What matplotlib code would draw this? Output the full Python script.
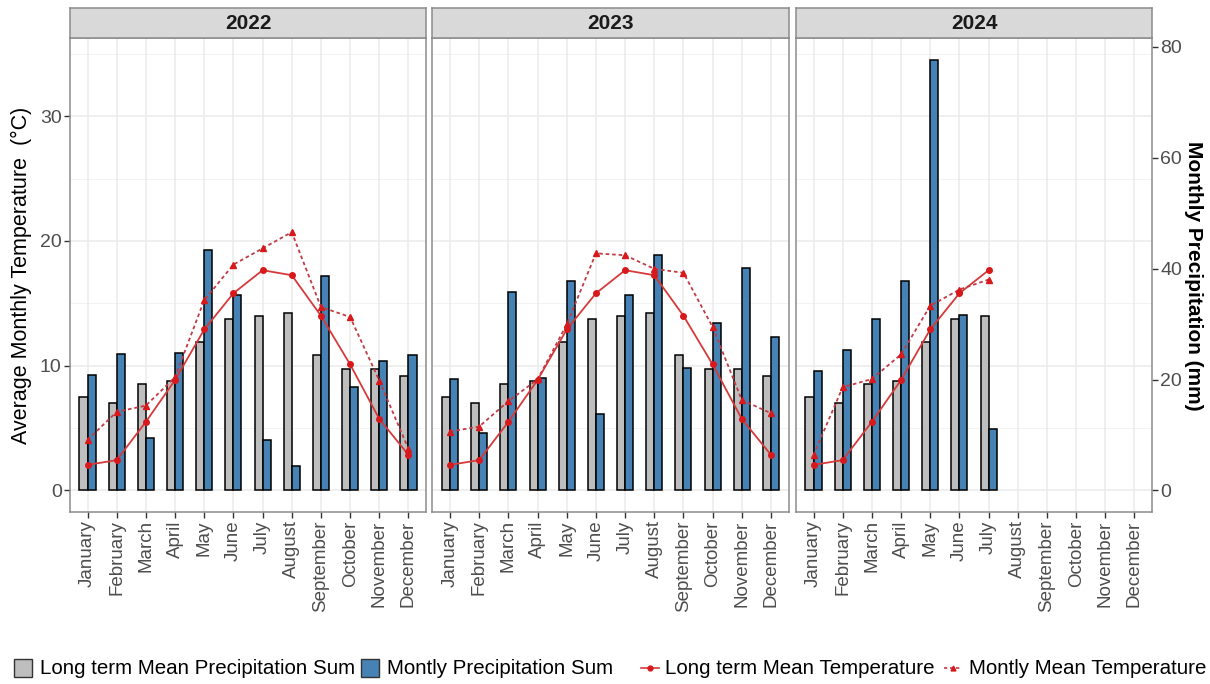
import numpy as np
import matplotlib
matplotlib.use("Agg")
import matplotlib.pyplot as plt
from matplotlib.patches import Rectangle
from matplotlib.lines import Line2D

plt.rcParams['font.family'] = ['Liberation Sans', 'DejaVu Sans']

# ---- data -------------------------------------------------------------
months = ["January", "February", "March", "April", "May", "June", "July",
          "August", "September", "October", "November", "December"]
years = ["2022", "2023", "2024"]

# long-term mean precipitation sum (mm), same for every year
lt_precip = [16.8, 15.7, 19.2, 19.8, 26.8, 30.9, 31.4, 32.0, 24.4, 21.9, 21.9, 20.7]
# monthly precipitation sum (mm)
precip_2022 = [20.8, 24.6, 9.5, 24.7, 43.4, 35.3, 9.1, 4.4, 38.6, 18.7, 23.3, 24.5]
precip_2023 = [20.1, 10.3, 35.8, 20.3, 37.8, 13.7, 35.3, 42.4, 22.0, 30.2, 40.2, 27.6]
precip_2024 = [21.6, 25.3, 31.0, 37.7, 77.7, 31.7, 11.1]

# long-term mean temperature (°C)
lt_temp = [2.05, 2.43, 5.5, 8.85, 12.9, 15.8, 17.65, 17.25, 14.0, 10.1, 5.73, 2.85]
# monthly mean temperature (°C)
temp_2022 = [4.05, 6.3, 6.8, 9.07, 15.25, 18.1, 19.4, 20.7, 14.7, 13.9, 8.8, 3.33]
temp_2023 = [4.72, 5.12, 7.15, 8.9, 13.3, 19.0, 18.85, 17.76, 17.44, 13.1, 7.25, 6.19]
temp_2024 = [2.83, 8.27, 8.93, 10.9, 14.8, 16.1, 16.9]

precip_by_year = [precip_2022, precip_2023, precip_2024]
temp_by_year = [temp_2022, temp_2023, temp_2024]

# mm of precipitation per °C on the shared vertical scale
MM_PER_DEG = 2.25

# ---- style ------------------------------------------------------------
C_GRAY = "#BEBEBE"
C_BLUE = "#4682B4"
C_LINE = "#d63a3a"
C_DASH = "#c23b45"
C_MARK = "#d7191c"
C_TEXT = "#4D4D4D"
C_GRID = "#EBEBEB"
C_BORDER = "#8c8c8c"
C_STRIP = "#D9D9D9"

W, H = 1210, 684
fig = plt.figure(figsize=(W / 100, H / 100), dpi=100)


def fx(px):
    return px / W


def fy(py):
    return 1 - py / H


panel_left = [70, 432.5, 796]
panel_w = 356
panel_top, panel_bot = 38, 512
strip_top = 8

x = np.arange(len(months))
bw = 0.275

ymax = max(max(p) for p in precip_by_year) / MM_PER_DEG
ymax = max(ymax, max(max(t) for t in temp_by_year), max(lt_temp))
pad = 0.05 * ymax
ylim = (-pad, ymax + pad)

axes = []
for i, yr in enumerate(years):
    ax = fig.add_axes([fx(panel_left[i]), fy(panel_bot), fx(panel_w),
                       (panel_bot - panel_top) / H])
    axes.append(ax)
    n = len(precip_by_year[i])
    xi = x[:n]

    # grid
    for g in [0, 10, 20, 30]:
        ax.axhline(g, color=C_GRID, lw=1.1, zorder=0)
    for g in [5, 15, 25, 35]:
        ax.axhline(g, color="#F3F3F3", lw=0.7, zorder=0)
    for xv in x:
        ax.axvline(xv, color=C_GRID, lw=1.1, zorder=0)

    # bars
    ax.bar(xi - bw / 2, np.array(lt_precip[:n]) / MM_PER_DEG, width=bw,
           color=C_GRAY, edgecolor="black", linewidth=1.1, zorder=2)
    ax.bar(xi + bw / 2, np.array(precip_by_year[i]) / MM_PER_DEG, width=bw,
           color=C_BLUE, edgecolor="black", linewidth=1.1, zorder=2)

    # temperature lines
    ax.plot(xi, lt_temp[:n], color=C_LINE, lw=1.3, zorder=3)
    ax.plot(xi, lt_temp[:n], ls="none", marker="o", ms=4, color=C_MARK, zorder=4)
    ax.plot(xi, temp_by_year[i], color=C_DASH, lw=1.3, ls=(0, (2, 1.6)), zorder=3)
    ax.plot(xi, temp_by_year[i], ls="none", marker="^", ms=4.5, color=C_MARK, zorder=4)

    ax.set_xlim(-0.6, 11.6)
    ax.set_ylim(*ylim)
    ax.set_xticks(x)
    ax.set_xticklabels(months, rotation=90, fontsize=13.5, color=C_TEXT)
    ax.tick_params(axis="x", length=4, width=1, color="#333333", pad=2)
    for s in ax.spines.values():
        s.set_color(C_BORDER)
        s.set_linewidth(1.1)

    if i == 0:
        ax.set_yticks([0, 10, 20, 30])
        ax.tick_params(axis="y", length=4, width=1, color="#333333",
                       labelsize=14, labelcolor=C_TEXT, pad=2)
        ax.set_ylabel("Average Monthly Temperature  (°C)", fontsize=15.5,
                      color="black", labelpad=6)
    else:
        ax.set_yticks([])

    if i == 2:
        sec = ax.secondary_yaxis("right", functions=(lambda t: t * MM_PER_DEG,
                                                     lambda p: p / MM_PER_DEG))
        sec.set_yticks([0, 20, 40, 60, 80])
        sec.tick_params(axis="y", length=4, width=1, color="#333333",
                        labelsize=14, labelcolor=C_TEXT, pad=2)
        sec.spines["right"].set_visible(False)

    # facet strip
    sax = fig.add_axes([fx(panel_left[i]), fy(panel_top), fx(panel_w),
                        (panel_top - strip_top) / H])
    sax.set_facecolor(C_STRIP)
    sax.set_xticks([])
    sax.set_yticks([])
    for s in sax.spines.values():
        s.set_color(C_BORDER)
        s.set_linewidth(1.1)
    sax.text(0.5, 0.47, yr, ha="center", va="center", fontsize=15,
             fontweight="bold", color="#1A1A1A", transform=sax.transAxes)

# secondary axis title
fig.text(fx(1193), fy(276), "Monthly Precipitation (mm)", rotation=-90,
         ha="center", va="center", fontsize=15, fontweight="bold", color="black")

# ---- legend -----------------------------------------------------------
ly = 668
sq = 18
legend_items = [
    ("patch", C_GRAY, 14, 40, "Long term Mean Precipitation Sum"),
    ("patch", C_BLUE, 361, 387, "Montly Precipitation Sum"),
    ("solid", C_LINE, 641, 665, "Long term Mean Temperature"),
    ("dash", C_DASH, 944, 969, "Montly Mean Temperature"),
]
for kind, col, kx, tx, label in legend_items:
    if kind == "patch":
        fig.add_artist(Rectangle((fx(kx), fy(ly + sq / 2)), fx(sq), sq / H,
                                 transform=fig.transFigure, facecolor=col,
                                 edgecolor="#333333", linewidth=1.0))
    else:
        ls = "-" if kind == "solid" else (0, (2, 1.6))
        mk = "o" if kind == "solid" else "^"
        fig.add_artist(Line2D([fx(kx), fx(kx + 18)], [fy(ly), fy(ly)],
                              transform=fig.transFigure, color=col, lw=1.2, ls=ls))
        fig.add_artist(Line2D([fx(kx + 9)], [fy(ly)], transform=fig.transFigure,
                              marker=mk, ms=3.5, color=C_MARK, ls="none"))
    fig.text(fx(tx), fy(ly), label, ha="left", va="center", fontsize=14.8,
             color="black")

fig.savefig("out.png", dpi=100, facecolor="white")
